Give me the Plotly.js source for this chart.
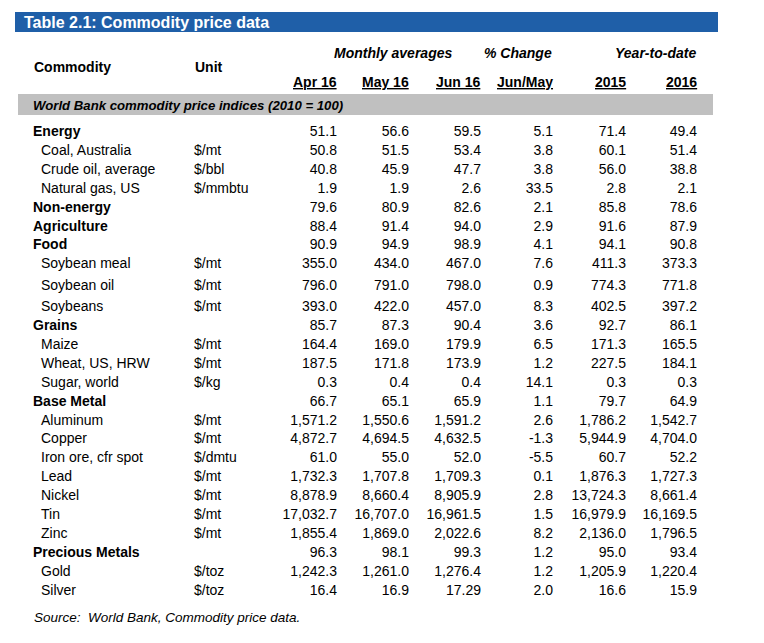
<!DOCTYPE html>
<html>
<head>
<meta charset="utf-8">
<script src="https://cdn.plot.ly/plotly-3.0.1.min.js"></script>
<style>html,body{margin:0;padding:0;background:#fff;}#chart{width:764px;height:643px;}</style>
</head>
<body>
<div id="chart"></div>
<script>
// ---- DATA ----
const commodities = ["Energy","Coal, Australia","Crude oil, average","Natural gas, US","Non-energy","Agriculture","Food","Soybean meal","Soybean oil","Soybeans","Grains","Maize","Wheat, US, HRW","Sugar, world","Base Metal","Aluminum","Copper","Iron ore, cfr spot","Lead","Nickel","Tin","Zinc","Precious Metals","Gold","Silver"];
const units = ["","$/mt","$/bbl","$/mmbtu","","","","$/mt","$/mt","$/mt","","$/mt","$/mt","$/kg","","$/mt","$/mt","$/dmtu","$/mt","$/mt","$/mt","$/mt","","$/toz","$/toz"];
const apr16 = [51.1,50.8,40.8,1.9,79.6,88.4,90.9,355.0,796.0,393.0,85.7,164.4,187.5,0.3,66.7,1571.2,4872.7,61.0,1732.3,8878.9,17032.7,1855.4,96.3,1242.3,16.4];
const may16 = [56.6,51.5,45.9,1.9,80.9,91.4,94.9,434.0,791.0,422.0,87.3,169.0,171.8,0.4,65.1,1550.6,4694.5,55.0,1707.8,8660.4,16707.0,1869.0,98.1,1261.0,16.9];
const jun16 = [59.5,53.4,47.7,2.6,82.6,94.0,98.9,467.0,798.0,457.0,90.4,179.9,173.9,0.4,65.9,1591.2,4632.5,52.0,1709.3,8905.9,16961.5,2022.6,99.3,1276.4,17.29];
const pctChange = [5.1,3.8,3.8,33.5,2.1,2.9,4.1,7.6,0.9,8.3,3.6,6.5,1.2,14.1,1.1,2.6,-1.3,-5.5,0.1,2.8,1.5,8.2,1.2,1.2,2.0];
const ytd2015 = [71.4,60.1,56.0,2.8,85.8,91.6,94.1,411.3,774.3,402.5,92.7,171.3,227.5,0.3,79.7,1786.2,5944.9,60.7,1876.3,13724.3,16979.9,2136.0,95.0,1205.9,16.6];
const ytd2016 = [49.4,51.4,38.8,2.1,78.6,87.9,90.8,373.3,771.8,397.2,86.1,165.5,184.1,0.3,64.9,1542.7,4704.0,52.2,1727.3,8661.4,16169.5,1796.5,93.4,1220.4,15.9];
const columnHeaders = ["Apr 16","May 16","Jun 16","Jun/May","2015","2016"];
const groupHeaders = ["Monthly averages","% Change","Year-to-date"];
const tableTitle = "Table 2.1: Commodity price data";
const bandTitle = "World Bank commodity price indices (2010 = 100)";
const sourceText = "Source:  World Bank, Commodity price data.";

// ---- LAYOUT HELPERS ----
const FONT = "Liberation Sans, Arial, sans-serif";
const fmt = new Intl.NumberFormat('en-US',{minimumFractionDigits:1,maximumFractionDigits:2});
function rowY(i){ return 132.5 + i*18.9 + (i>=8?3:0) + (i>=9?2:0); }
const rows = commodities.map((_,i)=>rowY(i));
const isCat = units.map(u=>u==="");
const colRight = [337,409,481,553,626,697];
const series = [apr16,may16,jun16,pctChange,ytd2015,ytd2016];

const traces = [];
const catIdx = commodities.map((_,i)=>i).filter(i=>isCat[i]);
const itemIdx = commodities.map((_,i)=>i).filter(i=>!isCat[i]);
traces.push({type:'scatter',mode:'text',x:catIdx.map(()=>33),y:catIdx.map(i=>rows[i]),
  text:catIdx.map(i=>commodities[i]),textposition:'middle right',
  textfont:{family:FONT,size:14,color:'#000',weight:'bold'},hoverinfo:'skip',showlegend:false});
traces.push({type:'scatter',mode:'text',x:itemIdx.map(()=>41),y:itemIdx.map(i=>rows[i]),
  text:itemIdx.map(i=>commodities[i]),textposition:'middle right',
  textfont:{family:FONT,size:14,color:'#000'},hoverinfo:'skip',showlegend:false});
traces.push({type:'scatter',mode:'text',x:itemIdx.map(()=>194),y:itemIdx.map(i=>rows[i]),
  text:itemIdx.map(i=>units[i]),textposition:'middle right',
  textfont:{family:FONT,size:14,color:'#000'},hoverinfo:'skip',showlegend:false});
series.forEach((s,c)=>{
  traces.push({type:'scatter',mode:'text',x:s.map(()=>colRight[c]),y:rows,
    text:s.map(v=>fmt.format(v)),textposition:'middle left',
    textfont:{family:FONT,size:14,color:'#000'},hoverinfo:'skip',showlegend:false});
});

const ann = [];
function A(text,x,y,xanchor,font){ ann.push({text,x,y,xref:'x',yref:'y',xanchor,yanchor:'middle',showarrow:false,borderpad:0,font:Object.assign({family:FONT,size:14,color:'#000'},font)}); }
A(tableTitle,23,22,'left',{size:16,color:'#fff',weight:'bold'});
A("Commodity",33,67,'left',{weight:'bold'});
A("Unit",194,67,'left',{weight:'bold'});
A(groupHeaders[0],453,53,'right',{weight:'bold',style:'italic'});
A(groupHeaders[1],553,53,'right',{weight:'bold',style:'italic'});
A(groupHeaders[2],697,53,'right',{weight:'bold',style:'italic'});
columnHeaders.forEach((h,c)=>A(h,colRight[c]+1,82,'right',{weight:'bold',lineposition:'under'}));
A(bandTitle,32,105,'left',{size:13.2,weight:'bold',style:'italic'});
A(sourceText,33,617,'left',{size:13.5,style:'italic'});

const shapes = [
  {type:'rect',xref:'x',yref:'y',x0:15,x1:718,y0:12,y1:32,fillcolor:'#1F5FA8',line:{width:0},layer:'below'},
  {type:'rect',xref:'x',yref:'y',x0:18,x1:713,y0:94,y1:115,fillcolor:'#C0C0C0',line:{width:0},layer:'below'}
];

const layout = {
  width:764,height:643,margin:{l:0,r:0,t:0,b:0},
  paper_bgcolor:'#fff',plot_bgcolor:'#fff',
  xaxis:{range:[0,764],visible:false,fixedrange:true},
  yaxis:{range:[643,0],visible:false,fixedrange:true},
  showlegend:false,hovermode:false,
  annotations:ann,shapes:shapes
};
Plotly.newPlot('chart',traces,layout,{staticPlot:true,displayModeBar:false});
</script>
</body>
</html>
